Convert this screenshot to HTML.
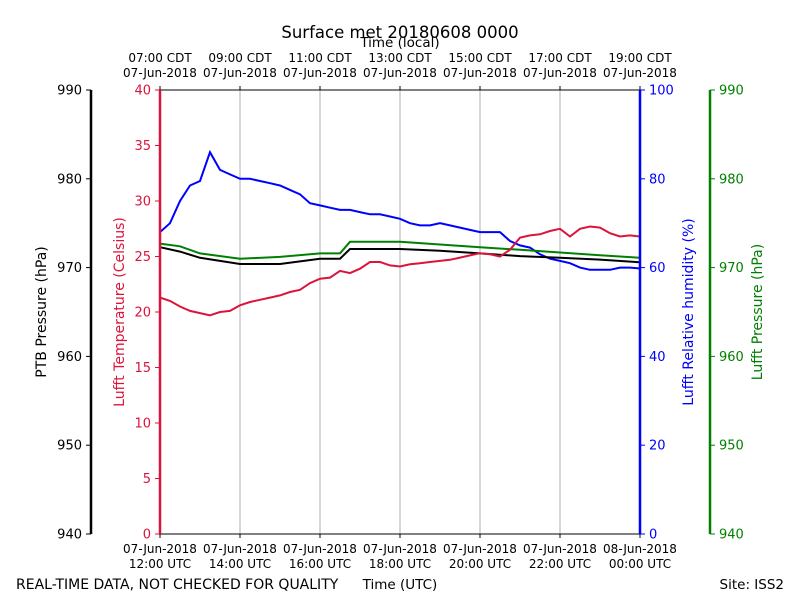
<!DOCTYPE html>
<html><head><meta charset="utf-8"><style>
body{margin:0;background:#fff;font-family:"Liberation Sans","DejaVu Sans",sans-serif}
svg text{font-family:"DejaVu Sans","Liberation Sans",sans-serif}
</style></head><body>
<svg id="c" width="800" height="600" xmlns="http://www.w3.org/2000/svg">
<rect width="800" height="600" fill="#fff"/>
<g id="grid"></g>
<g id="series"></g>
<g id="axes"></g>
<text x="400" y="38" font-size="16.5" text-anchor="middle">Surface met 20180608 0000</text>
<text x="400" y="47" font-size="13.5" text-anchor="middle">Time (local)</text>
<text x="400" y="589" font-size="13.5" text-anchor="middle">Time (UTC)</text>
<text x="16" y="589" font-size="14">REAL-TIME DATA, NOT CHECKED FOR QUALITY</text>
<text x="784" y="589" font-size="13.5" text-anchor="end">Site: ISS2</text>
<text transform="translate(46,312) rotate(-90)" font-size="14" text-anchor="middle">PTB Pressure (hPa)</text>
<text transform="translate(124,312) rotate(-90)" font-size="14" fill="#dc143c" text-anchor="middle">Lufft Temperature (Celsius)</text>
<text transform="translate(693,312) rotate(-90)" font-size="14" fill="#0000ff" text-anchor="middle">Lufft Relative humidity (%)</text>
<text transform="translate(762,312) rotate(-90)" font-size="14" fill="#008000" text-anchor="middle">Lufft Pressure (hPa)</text>
</svg>
<script>
const hours=[];for(let i=0;i<=48;i++)hours.push(i*0.25);
const tempC=[21.3,21.0,20.5,20.1,19.9,19.7,20.0,20.1,20.6,20.9,21.1,21.3,21.5,21.8,22.0,22.6,23.0,23.1,23.7,23.5,23.9,24.5,24.5,24.2,24.1,24.3,24.4,24.5,24.6,24.7,24.9,25.1,25.3,25.2,25.0,25.6,26.7,26.9,27.0,27.3,27.5,26.8,27.5,27.7,27.6,27.1,26.8,26.9,26.8];
const rhPct=[68,70,75,78.5,79.5,86,82,81,80,80,79.5,79,78.5,77.5,76.5,74.5,74,73.5,73,73,72.5,72,72,71.5,71,70,69.5,69.5,70,69.5,69,68.5,68,68,68,66,65,64.5,63,62,61.5,61,60,59.5,59.5,59.5,60,60,59.8];
const pHours=[0,0.5,1,2,3,4,4.5,4.75,5,6,7,8,9,10,11,12];
const ptbP=[972.3,971.8,971.1,970.4,970.4,971.0,971.0,972.1,972.1,972.1,971.9,971.6,971.3,971.1,970.9,970.6];
const lufftP=[972.7,972.4,971.6,971.0,971.2,971.6,971.6,972.9,972.9,972.9,972.6,972.3,972.0,971.7,971.4,971.1];
const topLabels=["07:00 CDT","09:00 CDT","11:00 CDT","13:00 CDT","15:00 CDT","17:00 CDT","19:00 CDT"];
const botLabels=[["07-Jun-2018","12:00 UTC"],["07-Jun-2018","14:00 UTC"],["07-Jun-2018","16:00 UTC"],["07-Jun-2018","18:00 UTC"],["07-Jun-2018","20:00 UTC"],["07-Jun-2018","22:00 UTC"],["08-Jun-2018","00:00 UTC"]];
const pTicks=[940,950,960,970,980,990];
const tTicks=[0,5,10,15,20,25,30,35,40];
const rhTicks=[0,20,40,60,80,100];
const L=160,R=640,T=90,B=534;
const x=h=>L+h/12*(R-L);
const yT=v=>B-v/40*(B-T);
const yRH=v=>B-v/100*(B-T);
const yP=v=>B-(v-940)/50*(B-T);
const NS="http://www.w3.org/2000/svg";
function mk(tag,at,parent){const e=document.createElementNS(NS,tag);for(const k in at)e.setAttribute(k,at[k]);document.getElementById(parent).appendChild(e);return e;}
for(let i=1;i<6;i++){const g=mk('line',{x1:x(i*2),x2:x(i*2),y1:T,y2:B,stroke:'#b0b0b0','stroke-width':1},'grid');

}
function line(xs,ys,fy,col,name){const d=xs.map((h,i)=>(i?'L':'M')+x(h).toFixed(1)+','+fy(ys[i]).toFixed(1)).join('');
const p=mk('path',{d:d,fill:'none',stroke:col,'stroke-width':2},'series');

}
line(hours,rhPct,yRH,'#0000ff','humidity-line');
line(pHours,lufftP,yP,'#008000','lufft-pressure-line');
line(pHours,ptbP,yP,'#000000','ptb-pressure-line');
line(hours,tempC,yT,'#dc143c','temperature-line');
const fr=mk('path',{d:`M${L},${T}H${R}M${L},${B}H${R}`,stroke:'#000','stroke-width':1,fill:'none'},'axes');


function vaxis(ax,col,ticks,fy,side,name){const a=mk('line',{x1:ax,x2:ax,y1:T,y2:B,stroke:col,'stroke-width':2.5},'axes');


ticks.forEach(v=>{const y=fy(v);mk('line',{x1:ax,x2:ax+side*5,y1:y,y2:y,stroke:col,'stroke-width':1},'axes');
const t=mk('text',{x:ax+side*9,y:y+4.5,'font-size':13,fill:col,'text-anchor':side<0?'end':'start'},'axes');t.textContent=v;

});}
vaxis(91,'#000',pTicks,yP,-1,'ptb-pressure-axis');
vaxis(160,'#dc143c',tTicks,yT,-1,'temperature-axis');
vaxis(640,'#0000ff',rhTicks,yRH,1,'humidity-axis');
vaxis(710,'#008000',pTicks,yP,1,'lufft-pressure-axis');
topLabels.forEach((s,i)=>{const xx=x(i*2);mk('line',{x1:xx,x2:xx,y1:T,y2:T-4,stroke:'#000'},'axes');
[s,'07-Jun-2018'].forEach((w,j)=>{const t=mk('text',{x:xx,y:62+j*15,'font-size':12,'text-anchor':'middle'},'axes');t.textContent=w;

});});
botLabels.forEach((s,i)=>{const xx=x(i*2);mk('line',{x1:xx,x2:xx,y1:B,y2:B+4,stroke:'#000'},'axes');
s.forEach((w,j)=>{const t=mk('text',{x:xx,y:553+j*15,'font-size':12,'text-anchor':'middle'},'axes');t.textContent=w;

});});
</script>
</body></html>
